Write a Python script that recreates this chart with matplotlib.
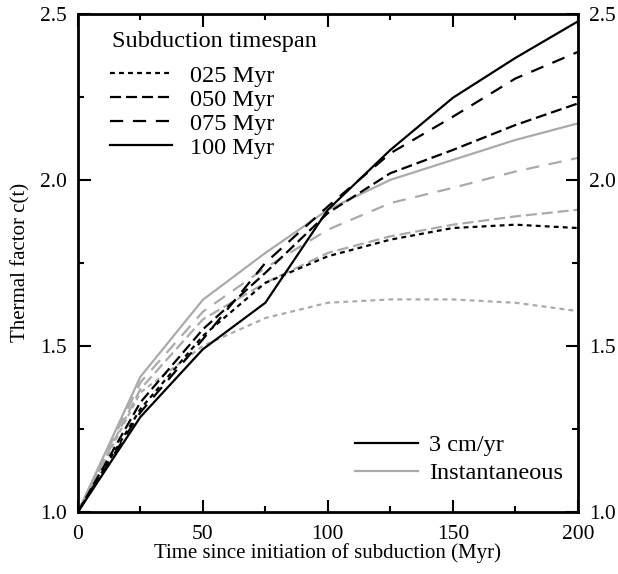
import matplotlib
matplotlib.use("Agg")
import matplotlib.pyplot as plt
from matplotlib.lines import Line2D

plt.rcParams['font.family'] = ['Liberation Serif', 'DejaVu Serif']
plt.rcParams['font.size'] = 15
plt.rcParams['lines.scale_dashes'] = False

# time since initiation of subduction (Myr)
t = [0, 25, 50, 75, 100, 125, 150, 175, 200]

# 3 cm/yr (black)
slow_025 = [1.0, 1.31, 1.53, 1.69, 1.77, 1.82, 1.855, 1.865, 1.855]
slow_050 = [1.0, 1.33, 1.55, 1.72, 1.90, 2.02, 2.09, 2.165, 2.23]
slow_075 = [1.0, 1.30, 1.52, 1.75, 1.92, 2.08, 2.19, 2.305, 2.385]
slow_100 = [1.0, 1.286, 1.49, 1.63, 1.91, 2.09, 2.247, 2.367, 2.477]

# instantaneous (grey)
inst_025 = [1.0, 1.36, 1.50, 1.584, 1.63, 1.64, 1.64, 1.63, 1.605]
inst_050 = [1.0, 1.37, 1.58, 1.69, 1.78, 1.83, 1.865, 1.89, 1.91]
inst_075 = [1.0, 1.39, 1.603, 1.735, 1.85, 1.93, 1.976, 2.025, 2.066]
inst_100 = [1.0, 1.407, 1.639, 1.78, 1.91, 2.0, 2.06, 2.12, 2.17]

spans = ['025 Myr', '050 Myr', '075 Myr', '100 Myr']
dash_styles = [(0, (3.5, 3)), (0, (8, 3.5)), (0, (9.5, 7)), '-']

grey = '#aaaaaa'
lw = 1.6

fig = plt.figure(figsize=(6.18, 5.74), dpi=100)
ax = fig.add_axes([0.126, 0.108, 0.809, 0.868])

for ys, ls in zip([inst_025, inst_050, inst_075, inst_100], dash_styles):
    ax.plot(t, ys, color=grey, linestyle=ls, linewidth=lw)
for ys, ls in zip([slow_025, slow_050, slow_075, slow_100], dash_styles):
    ax.plot(t, ys, color='black', linestyle=ls, linewidth=lw)

ax.set_xlim(0, 200)
ax.set_ylim(1.0, 2.5)
ax.set_xticks([0, 50, 100, 150, 200])
ax.set_xticks([25, 75, 125, 175], minor=True)
ax.set_yticks([1.0, 1.5, 2.0, 2.5])
ax.set_yticks([1.25, 1.75, 2.25], minor=True)
ax.set_yticklabels(['1.0', '1.5', '2.0', '2.5'])
ax.tick_params(which='both', direction='in', top=True, right=True,
               labelright=True, width=1.5, labelsize=15.5)
ax.tick_params(which='major', length=9)
ax.tick_params(axis='x', which='major', pad=9)
ax.tick_params(axis='y', which='major', pad=8)
ax.tick_params(which='minor', length=4.5)
for s in ax.spines.values():
    s.set_linewidth(2)

ax.set_xlabel('Time since initiation of subduction (Myr)', labelpad=0)
ax.set_ylabel('Thermal factor c(t)', labelpad=7)

# legend title drawn separately to get the extra gap below it
ax.text(0.068, 0.944, 'Subduction timespan', transform=ax.transAxes,
        fontsize=17.5, ha='left', va='center')
handles1 = [Line2D([], [], color='black', linestyle=ls, linewidth=lw)
            for ls in dash_styles]
leg1 = ax.legend(handles1, spans, loc='upper left',
                 frameon=False, handlelength=2.55, handletextpad=0.75,
                 labelspacing=0.08, fontsize=17.5, borderpad=0,
                 bbox_to_anchor=(0.064, 0.8976), borderaxespad=0)
ax.add_artist(leg1)

handles2 = [Line2D([], [], color='black', linewidth=lw),
            Line2D([], [], color=grey, linewidth=lw)]
ax.legend(handles2, ['3 cm/yr', 'Instantaneous'], loc='lower right',
          frameon=False, handlelength=2.6, handletextpad=0.45,
          labelspacing=0.25, fontsize=17.5, borderpad=0,
          bbox_to_anchor=(0.97, 0.056), borderaxespad=0)

fig.savefig('out.png', dpi=100)
